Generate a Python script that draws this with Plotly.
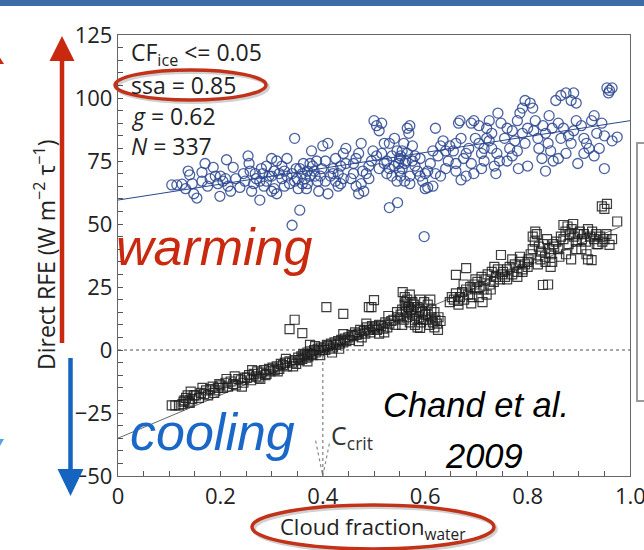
import plotly.graph_objects as go

# ---------------- data ----------------
circle_x = [
    0.105, 0.115, 0.125, 0.132, 0.137, 0.14, 0.145, 0.148, 0.154,
    0.164, 0.164, 0.175, 0.186, 0.19, 0.199, 0.17, 0.18, 0.195,
    0.2, 0.205, 0.21, 0.215, 0.212, 0.225, 0.238, 0.245, 0.23, 0.22, 0.248,
    0.254, 0.256, 0.258, 0.261, 0.277, 0.277, 0.283, 0.29, 0.27, 0.265, 0.285, 0.295, 0.28, 0.268, 0.29,
    0.3, 0.31, 0.30, 0.305, 0.31, 0.32, 0.325, 0.33, 0.34, 0.345, 0.35, 0.345, 0.355, 0.34, 0.315, 0.335,
    0.32, 0.3, 0.305, 0.33, 0.348, 0.325,
    0.37, 0.375, 0.378, 0.38, 0.36, 0.365, 0.37, 0.355, 0.36, 0.385, 0.39, 0.395, 0.375, 0.383, 0.368,
    0.352, 0.392, 0.398, 0.362, 0.388,
    0.40, 0.405, 0.41, 0.42, 0.425, 0.43, 0.435, 0.44, 0.445, 0.415, 0.42, 0.43, 0.44, 0.405, 0.435,
    0.41, 0.445, 0.425,
    0.46, 0.465, 0.47, 0.475, 0.478, 0.485, 0.47, 0.48, 0.455, 0.49, 0.495, 0.46, 0.475, 0.49, 0.498, 0.465,
    0.5, 0.505, 0.51, 0.515, 0.52, 0.53, 0.53, 0.535, 0.54, 0.545, 0.55, 0.54, 0.52, 0.525, 0.51, 0.505,
    0.545, 0.535, 0.55, 0.515, 0.525, 0.546, 0.548, 0.53,
    0.552, 0.555, 0.56, 0.555, 0.565, 0.57, 0.568, 0.575, 0.58, 0.585, 0.59, 0.595, 0.6, 0.56, 0.57,
    0.575, 0.59, 0.558, 0.565, 0.58, 0.6, 0.598, 0.57, 0.552, 0.562,
    0.605, 0.615, 0.62, 0.62, 0.63, 0.635, 0.64, 0.645, 0.61, 0.625, 0.64, 0.63, 0.615, 0.648, 0.605,
    0.655, 0.66, 0.665, 0.668, 0.66, 0.67, 0.68, 0.675, 0.69, 0.695, 0.698, 0.685, 0.67, 0.69, 0.68, 0.695, 0.66,
    0.705, 0.71, 0.715, 0.72, 0.725, 0.73, 0.735, 0.745, 0.742, 0.748, 0.72, 0.71, 0.73, 0.74, 0.705, 0.725,
    0.715, 0.738,
    0.76, 0.765, 0.77, 0.775, 0.78, 0.785, 0.79, 0.795, 0.8, 0.755, 0.77, 0.78, 0.79, 0.76, 0.795, 0.782,
    0.805, 0.81, 0.815, 0.8, 0.82, 0.822, 0.83, 0.835, 0.84, 0.845, 0.85, 0.812, 0.828, 0.842, 0.848, 0.835,
    0.855, 0.865, 0.875, 0.885, 0.89, 0.895, 0.86, 0.87, 0.88, 0.885, 0.875, 0.86, 0.895, 0.865, 0.89, 0.898,
    0.905, 0.91, 0.915, 0.92, 0.925, 0.93, 0.935, 0.94, 0.945, 0.95, 0.955, 0.96, 0.965, 0.958, 0.95,
    0.965, 0.91, 0.93, 0.975,
]
circle_y = [
    65.5, 65.5, 65.8, 64, 71, 69.5, 66, 62, 60.3,
    70.5, 67, 65, 72.5, 69, 61, 74, 68, 66,
    69, 67, 68, 65, 75.5, 72.5, 64.5, 70, 68, 63, 67,
    77, 74, 71, 63, 59.5, 67, 70, 73, 68, 66, 65, 69, 72, 70, 67,
    76, 75, 63, 64, 62, 68, 71, 76, 70, 67, 68, 84, 55.5, 49.5, 70, 66,
    73, 69, 71, 69, 72, 65,
    66, 74, 79, 73, 70, 68, 71, 72, 66, 69, 67, 69, 69, 71, 64,
    64, 63, 72, 74, 75,
    81, 75, 82, 70, 67, 65, 73, 78, 80, 69, 72, 70, 68, 67, 66,
    62, 74, 76,
    74, 76, 78, 82, 71, 70, 62, 63, 68, 73, 75, 70, 66, 68, 79, 65,
    91, 89, 87, 90, 82, 56.5, 82, 77, 73, 79, 76, 84, 74, 70, 72, 77,
    67, 69, 71, 78, 75, 58.5, 74, 72,
    77, 79, 74, 72, 88, 89, 86, 81, 77, 71, 69, 67, 70, 67, 69,
    75, 76, 82, 78, 73, 64, 45, 66, 69, 75,
    64.5, 65, 70, 88, 81, 83, 79, 75, 74, 77, 72, 69, 79, 81, 71,
    79, 82, 90, 91, 74, 67.5, 69, 76, 90, 91, 84, 80, 84, 74, 78, 70, 71,
    82, 78, 75, 88, 91, 80, 73, 75, 94, 90, 84, 72, 86, 78, 89, 83,
    80, 70,
    88, 80, 87, 83, 91, 94, 96, 99, 88, 84, 77, 79, 86, 75, 82, 72,
    98, 96, 91, 73, 84, 80, 89, 86, 82, 79, 75, 87, 76, 93, 88, 71,
    99, 101, 102, 99, 102, 98, 90, 88, 85, 82, 78, 76, 91, 84, 87, 74,
    89, 84, 82, 80, 91, 77, 86, 80, 90, 85, 104, 103, 104, 102, 72,
    83, 78, 93, 84.5,
]

square_x = [
    0.105, 0.112, 0.119, 0.126, 0.13, 0.133, 0.136, 0.138, 0.14, 0.145, 0.148, 0.142, 0.128,
    0.152, 0.158, 0.162, 0.168, 0.172, 0.176, 0.18, 0.185, 0.19, 0.195, 0.198, 0.165, 0.188,
    0.2, 0.205, 0.21, 0.215, 0.22, 0.225, 0.23, 0.235, 0.24, 0.245, 0.248, 0.212, 0.228, 0.242,
    0.252, 0.256, 0.26, 0.265, 0.27, 0.272, 0.275, 0.28, 0.285, 0.29, 0.295, 0.298, 0.262, 0.278, 0.288,
    0.302, 0.306, 0.31, 0.315, 0.318, 0.322, 0.326, 0.33, 0.335, 0.34, 0.345, 0.348, 0.335, 0.345,
    0.312, 0.328, 0.342,
    0.352, 0.355, 0.358, 0.36, 0.362, 0.365, 0.368, 0.37, 0.372, 0.375, 0.378, 0.38, 0.383, 0.386,
    0.39, 0.393, 0.396, 0.399, 0.36, 0.37, 0.385, 0.375, 0.395,
    0.402, 0.405, 0.408, 0.41, 0.413, 0.416, 0.42, 0.423, 0.426, 0.43, 0.433, 0.436, 0.44, 0.443,
    0.446, 0.407, 0.44, 0.44, 0.418, 0.432,
    0.45, 0.453, 0.456, 0.46, 0.463, 0.466, 0.47, 0.473, 0.476, 0.48, 0.483, 0.486, 0.49, 0.493,
    0.496, 0.499, 0.49, 0.5, 0.495, 0.47, 0.485,
    0.502, 0.506, 0.51, 0.514, 0.518, 0.522, 0.526, 0.53, 0.534, 0.538, 0.542, 0.546, 0.55, 0.51,
    0.528, 0.545, 0.52,
    0.552, 0.555, 0.558, 0.56, 0.562, 0.565, 0.568, 0.57, 0.572, 0.575, 0.578, 0.58, 0.582, 0.585,
    0.588, 0.59, 0.592, 0.595, 0.598, 0.6, 0.556, 0.56, 0.565, 0.57, 0.575, 0.58, 0.585, 0.59,
    0.555, 0.562, 0.59, 0.596, 0.573, 0.567,
    0.602, 0.605, 0.608, 0.612, 0.615, 0.618, 0.62, 0.623, 0.626, 0.63, 0.605, 0.612, 0.618, 0.625, 0.61,
    0.648, 0.652, 0.656, 0.66, 0.664, 0.668, 0.672, 0.676, 0.68, 0.684, 0.688, 0.692, 0.696, 0.7,
    0.66, 0.68, 0.69, 0.675, 0.698, 0.665,
    0.702, 0.706, 0.71, 0.714, 0.718, 0.722, 0.726, 0.73, 0.734, 0.738, 0.742, 0.746, 0.75, 0.705,
    0.72, 0.735, 0.748, 0.712, 0.728,
    0.752, 0.756, 0.76, 0.765, 0.77, 0.775, 0.78, 0.785, 0.79, 0.795, 0.8, 0.76, 0.77, 0.78, 0.79,
    0.8, 0.785,
    0.802, 0.806, 0.81, 0.814, 0.818, 0.822, 0.826, 0.83, 0.834, 0.838, 0.842, 0.846, 0.85, 0.81,
    0.815, 0.825, 0.835, 0.845, 0.84, 0.82, 0.83, 0.848,
    0.852, 0.856, 0.86, 0.865, 0.87, 0.874, 0.878, 0.882, 0.886, 0.89, 0.894, 0.898, 0.87, 0.875,
    0.885, 0.895, 0.88, 0.862, 0.889,
    0.902, 0.906, 0.91, 0.914, 0.918, 0.922, 0.926, 0.93, 0.934, 0.938, 0.942, 0.946, 0.95, 0.954,
    0.905, 0.915, 0.918, 0.945, 0.95, 0.955, 0.96, 0.975, 0.925, 0.935, 0.965,
]
square_y = [
    -22, -22, -22, -21.5, -20, -19, -18, -20.5, -21, -19.5, -18, -16.5, -20.5,
    -18, -19, -17, -17.5, -16, -18, -15.5, -14.5, -16, -15, -13.5, -15, -17,
    -14, -15, -13, -14.5, -12.5, -13.5, -14, -11.5, -12, -13, -11, -11.5, -10.5, -14.5,
    -11, -10, -12, -9.5, -10.5, -8.5, -11, -9, -8, -9.5, -7.5, -8.5, -8, -11.5, -10,
    -7, -8, -6.5, -7.5, -5.5, -6, -5, -6.5, -4.5, -5, -4, -5.5, 8.3, 12,
    -8.5, -3.5, -6.5,
    -3, -4, -2.5, -3.5, -1.5, -2, -3, -1, -2.5, -0.5, -1.5, -2, 0, -1,
    0.5, -0.5, 1, 0, 6.7, -4.5, 1.5, 2, -2,
    1, 0, 2, 1.5, 0.5, 2.5, 1, 3, 2, 3.5, 2.5, 4, 3, 4.5,
    3.5, 17, 14.3, 6.3, -1, 0.5,
    5, 4, 6, 5.5, 7, 6, 6.5, 8, 5, 7.5, 6.5, 9, 8, 7,
    9.5, 8.5, 17, 19.8, 17, 3.5, 10.5,
    9, 8, 10, 9.5, 8.5, 11, 9, 10.5, 11.5, 12, 10, 13, 12.5, 6.5,
    13.5, 15, 7,
    14, 16, 12, 18, 15, 13, 17, 11, 16, 14, 18, 12, 15, 17,
    13, 16, 11, 15, 19, 14, 23, 21, 20, 22, 19, 10, 9, 8.8,
    10, 19, 20, 12, 16, 17,
    12, 14, 10, 13, 11, 15, 12, 10.5, 13, 11.5, 18, 16, 9, 8, 20,
    19, 21, 20, 22.5, 19.5, 21, 23, 20, 24, 22, 25, 21, 26, 24,
    29.8, 32.5, 18.5, 26, 28, 18,
    27, 25, 29, 24, 28, 30, 26, 31, 27, 29, 32, 28, 30, 21,
    22, 33, 37.7, 19, 24,
    31, 29, 32, 33, 30, 34, 31, 35, 32, 34, 33, 28, 36, 29, 31,
    35, 37,
    36, 38, 40, 43, 46, 41, 39, 42, 37, 44, 40, 38, 42, 45,
    47, 36, 35, 33, 26, 34, 25.8, 35,
    41, 43, 40, 45, 44, 47, 49, 46, 48, 45, 43, 46, 49.6, 38,
    36, 40, 42, 37, 50,
    47, 44, 46, 43, 48, 45, 47, 44, 46, 42, 45, 43, 44, 46,
    40, 38, 36, 57, 56, 58, 41.7, 51, 35.7, 42, 44,
]

fit_x = [0.0, 1.0]
circle_fit_y = [59.5, 91.0]
square_fit_x = [0.0, 0.98]
square_fit_y = [-35.0, 48.8]

x_tick_vals = [0, 0.2, 0.4, 0.6, 0.8]
x_tick_text = ["0", "0.2", "0.4", "0.6", "0.8"]
x_last_tick = 1.0
x_last_text = "1.0"
y_tick_vals = [-50, -25, 0, 25, 50, 75, 100, 125]
c_crit = 0.4

# ---------------- geometry helpers (page pixels -> paper) ----------------
W, H = 644, 550
PL, PR, PT, PB = 118, 630, 35, 476


def px(x):
    return (x - PL) / (PR - PL)


def py(y):
    return (PB - y) / (PB - PT)


RED = "#C8290F"
BLUE = "#1A67C8"
NAVY = "#2C4690"
FONT = "Open Sans, DejaVu Sans, sans-serif"
ARIAL = "Liberation Sans, Arial, sans-serif"

fig = go.Figure()

fig.add_trace(go.Scatter(x=fit_x, y=circle_fit_y, mode="lines",
                         line=dict(color=NAVY, width=1), hoverinfo="skip"))
fig.add_trace(go.Scatter(x=square_fit_x, y=square_fit_y, mode="lines",
                         line=dict(color="#666666", width=1), hoverinfo="skip"))
fig.add_trace(go.Scatter(x=circle_x, y=circle_y, mode="markers",
                         marker=dict(symbol="circle-open", size=10, color=NAVY,
                                     opacity=0.85, line=dict(width=1.3))))
fig.add_trace(go.Scatter(x=square_x, y=square_y, mode="markers",
                         marker=dict(symbol="square-open", size=9, color="#1c1c1c",
                                     opacity=0.85, line=dict(width=1.2))))

shapes = []
# dotted zero line and critical-fraction line
shapes.append(dict(type="line", xref="x", yref="y", x0=0, x1=1, y0=0, y1=0,
                   line=dict(color="#8a8a8a", width=1.3, dash="dot"), layer="below"))
shapes.append(dict(type="line", xref="x", yref="y", x0=c_crit, x1=c_crit, y0=0, y1=-50,
                   line=dict(color="#8a8a8a", width=1.3, dash="dot"), layer="below"))
shapes.append(dict(type="path", xref="x", yref="y",
                   path=f"M{c_crit-0.014},-36 L{c_crit},-50 L{c_crit+0.014},-36",
                   line=dict(color="#8a8a8a", width=1.2, dash="dot")))

# top slide band
shapes.append(dict(type="rect", xref="paper", yref="paper", x0=px(0), x1=px(W),
                   y0=py(6), y1=py(0), fillcolor="#3B6CA7", line=dict(width=0)))

# red warming arrow
shapes.append(dict(type="line", xref="paper", yref="paper", x0=px(62), x1=px(62),
                   y0=py(343), y1=py(58), line=dict(color=RED, width=4.5)))
shapes.append(dict(type="path", xref="paper", yref="paper",
                   path=f"M{px(49.5)},{py(61)} L{px(74.5)},{py(61)} L{px(62)},{py(36)} Z",
                   fillcolor=RED, line=dict(width=0)))
# blue cooling arrow
shapes.append(dict(type="line", xref="paper", yref="paper", x0=px(70.5), x1=px(70.5),
                   y0=py(358), y1=py(472), line=dict(color="#1565C0", width=4.5)))
shapes.append(dict(type="path", xref="paper", yref="paper",
                   path=f"M{px(57.5)},{py(469)} L{px(83.5)},{py(469)} L{px(70.5)},{py(496)} Z",
                   fillcolor="#1565C0", line=dict(width=0)))
# partial arrows at the left slide edge
shapes.append(dict(type="path", xref="paper", yref="paper",
                   path=f"M{px(-14)},{py(64)} L{px(4)},{py(64)} L{px(-5)},{py(50)} Z",
                   fillcolor=RED, line=dict(width=0)))
shapes.append(dict(type="path", xref="paper", yref="paper",
                   path=f"M{px(-14)},{py(439)} L{px(4)},{py(439)} L{px(-5)},{py(455)} Z",
                   fillcolor="#55A3E6", line=dict(width=0)))

# red highlight ellipses (with faint shadow)
for (x0, x1, y0, y1) in [(115, 266, 70, 100), (252, 494, 505, 549)]:
    shapes.append(dict(type="circle", xref="paper", yref="paper",
                       x0=px(x0 + 2), x1=px(x1 + 2), y0=py(y1 + 2), y1=py(y0 + 2),
                       line=dict(color="rgba(0,0,0,0.18)", width=4)))
    shapes.append(dict(type="circle", xref="paper", yref="paper",
                       x0=px(x0), x1=px(x1), y0=py(y1), y1=py(y0),
                       line=dict(color="#C23219", width=3.5)))

# partial box at right edge
shapes.append(dict(type="rect", xref="paper", yref="paper", x0=px(637), x1=px(670),
                   y0=py(401), y1=py(143), line=dict(color="#9a9a9a", width=2)))

annotations = []


def ann(text, x, y, size, color="#222222", family=FONT, xanchor="left", angle=0):
    annotations.append(dict(text=text, x=px(x), y=py(y), xref="paper", yref="paper",
                            xanchor=xanchor, yanchor="middle", showarrow=False,
                            textangle=angle, font=dict(size=size, color=color, family=family)))


ann("CF<sub>ice</sub> &lt;= 0.05", 129, 53, 23)
ann("ssa = 0.85", 129, 85, 23)
ann("<i>g</i> = 0.62", 129, 116, 23)
ann("<i>N</i> = 337", 129, 146, 23)
ann("Direct RFE (W m<sup>−2</sup> τ<sup>−1</sup>)", 45, 255, 23, xanchor="center", angle=-90)
ann("Cloud fraction<sub>water</sub>", 373, 528, 22, xanchor="center")
ann("<i>warming</i>", 114, 247, 52, color=RED, family=ARIAL)
ann("<i>cooling</i>", 128, 432, 52, color=BLUE, family=ARIAL)
ann("<i>Chand et al.</i>", 381, 405, 34.5, color="#000000", family=ARIAL)
ann("<i>2009</i>", 443, 456, 34.5, color="#000000", family=ARIAL)
ann("C<sub>crit</sub>", 329, 436, 25, color="#333333")
# last x tick label (partly past the slide edge, as in the picture)
annotations.append(dict(text=x_last_text, x=x_last_tick, y=py(495), xref="x", yref="paper",
                        xanchor="center", yanchor="middle", showarrow=False,
                        font=dict(size=22, color="#222222", family=FONT)))

fig.update_layout(
    width=W, height=H,
    margin=dict(l=PL, r=W - PR, t=PT, b=H - PB),
    paper_bgcolor="white", plot_bgcolor="white",
    showlegend=False,
    shapes=shapes, annotations=annotations,
    xaxis=dict(range=[0, 1.0], tickvals=x_tick_vals, ticktext=x_tick_text,
               ticks="inside", ticklen=5, tickcolor="#555555", tickwidth=1,
               minor=dict(dtick=0.05, ticks="inside", ticklen=5, tickcolor="#555555"),
               showline=True, mirror=True, linecolor="#666666", linewidth=1.3,
               showgrid=False, zeroline=False,
               tickfont=dict(family=FONT, size=22, color="#222222")),
    yaxis=dict(range=[-50, 125], tickvals=y_tick_vals,
               ticks="inside", ticklen=5, tickcolor="#555555", tickwidth=1,
               minor=dict(dtick=5, ticks="inside", ticklen=5, tickcolor="#555555"),
               showline=True, mirror=True, linecolor="#666666", linewidth=1.3,
               showgrid=False, zeroline=False,
               tickfont=dict(family=FONT, size=22, color="#222222")),
)

fig.write_html("out.html")
